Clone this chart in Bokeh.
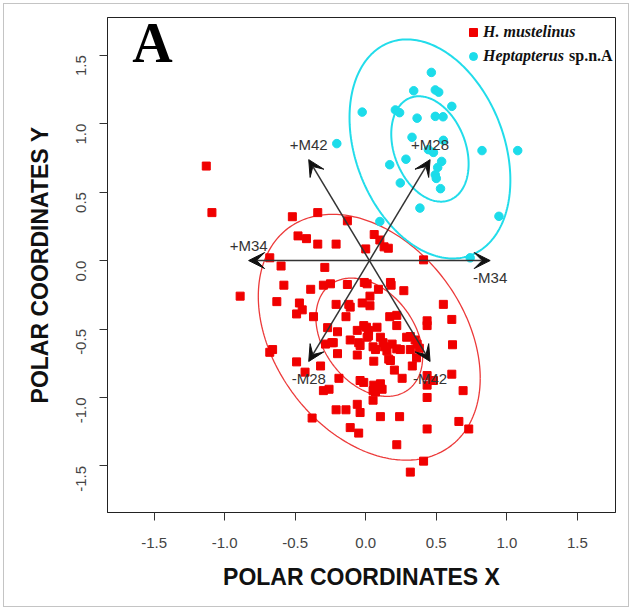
import math
import numpy as np
from bokeh.plotting import figure
from bokeh.models import (Range1d, ColumnDataSource, Arrow, VeeHead, Label, Legend, LegendItem,
                          FixedTicker, PrintfTickFormatter)
from bokeh.core.properties import value
from bokeh.embed import file_html
from bokeh.resources import INLINE

# ---------------- data ----------------
red_x = [-1.13, -1.09, -0.52, -0.34, -0.13, -0.48, -0.42, -0.34, -0.21, 0.06,
         0.10, 0.13, 0.16, 0.00, 0.41, -0.68, -0.60, -0.29, -0.58, -0.39,
         -0.30, -0.25, -0.89, -0.63, -0.47, -0.45, -0.49, -0.37, -0.13, -0.01,
         0.01, 0.175, 0.18, 0.27, 0.09, 0.03, -0.21, -0.12, -0.11, -0.025,
         0.03, 0.55, -0.14, 0.17, 0.22, 0.22, 0.435, 0.435, 0.61, -0.27,
         -0.20, -0.06, -0.014, 0.005, 0.02, 0.08, -0.24, -0.11, -0.05, -0.04,
         0.01, 0.02, 0.104, 0.123, 0.187, 0.052, 0.069, 0.132, 0.15, 0.22,
         0.245, 0.29, 0.316, 0.35, 0.364, 0.316, 0.38, 0.615, -0.20, -0.06,
         0.057, 0.163, 0.175, 0.36, 0.33, 0.203, 0.258, -0.19, -0.04, -0.014,
         0.057, 0.104, 0.116, 0.052, 0.069, 0.435, 0.435, 0.48, 0.61, 0.435,
         0.69, 0.052, -0.06, -0.04, -0.21, -0.14, 0.104, 0.24, -0.11, -0.05,
         0.435, 0.66, 0.73, 0.22, 0.41, 0.316, -0.68, -0.66, -0.49, -0.32,
         -0.285, -0.23, -0.43, -0.30, -0.26, -0.38]
red_y = [0.69, 0.35, 0.32, 0.35, 0.29, 0.18, 0.16, 0.12, 0.12, 0.19,
         0.15, 0.10, 0.09, 0.085, 0.005, 0.02, -0.04, -0.05, -0.18, -0.21,
         -0.18, -0.17, -0.26, -0.30, -0.31, -0.36, -0.39, -0.41, -0.175, -0.16,
         -0.17, -0.16, -0.18, -0.22, -0.21, -0.26, -0.32, -0.32, -0.34, -0.31,
         -0.33, -0.32, -0.41, -0.41, -0.40, -0.475, -0.44, -0.475, -0.43, -0.49,
         -0.52, -0.51, -0.475, -0.487, -0.51, -0.487, -0.60, -0.58, -0.60, -0.62,
         -0.56, -0.55, -0.56, -0.60, -0.61, -0.63, -0.65, -0.63, -0.66, -0.645,
         -0.65, -0.56, -0.555, -0.58, -0.61, -0.65, -0.64, -0.615, -0.68, -0.69,
         -0.735, -0.72, -0.73, -0.71, -0.77, -0.80, -0.86, -0.86, -0.876, -0.89,
         -0.91, -0.90, -0.94, -0.95, -0.96, -0.84, -0.91, -0.876, -0.83, -1.00,
         -0.95, -1.02, -1.05, -1.11, -1.09, -1.09, -1.14, -1.14, -1.22, -1.26,
         -1.23, -1.175, -1.23, -1.345, -1.465, -1.545, -0.67, -0.65, -0.74, -0.77,
         -0.61, -0.60, -0.815, -0.95, -0.94, -1.15]

cyan_x = [0.465, 0.34, 0.493, 0.517, 0.61, -0.025, 0.21, 0.24, 0.364, 0.493,
          0.548, -0.205, 0.328, 0.55, 0.444, 0.48, 0.824, 1.077, 0.17, 0.285,
          0.538, 0.51, 0.493, 0.50, 0.245, 0.53, 0.384, 0.944, 0.10, 0.74]
cyan_y = [1.374, 1.24, 1.246, 1.23, 1.126, 1.084, 1.10, 1.08, 1.04, 1.053,
          1.05, 0.854, 0.90, 0.878, 0.81, 0.79, 0.803, 0.803, 0.70, 0.74,
          0.724, 0.68, 0.626, 0.60, 0.567, 0.525, 0.383, 0.323, 0.285, 0.02]

group_names = ["H. mustelinus", "Heptapterus"]
group_suffix = ["", "sp.n.A"]
group_colors = ["#f00000", "#1cdcea"]
ellipse_colors = ["#ec3a3a", "#22dcea"]

# ellipse centres and covariance (xx, yy, xy) for each group
ell_cx = [0.025, 0.455]
ell_cy = [-0.56, 0.815]
ell_cxx = [0.1032, 0.0542]
ell_cyy = [0.1345, 0.1068]
ell_cxy = [-0.0392, -0.0217]
ell_levels = [0.50, 0.95]

# variable loadings (arrows)
var_names = ["M34", "M42", "M28"]
load_x = [-0.856, -0.43, 0.43]
load_y = [0.0, 0.737, 0.737]
origin = (0.026, 0.0)

ticks = [-1.5, -1.0, -0.5, 0.0, 0.5, 1.0, 1.5]

# ---------------- figure ----------------
p = figure(width=632, height=610, output_backend="svg", toolbar_location=None,
           x_range=Range1d(-1.83, 1.77), y_range=Range1d(-1.84, 1.775),
           min_border_left=107, min_border_right=17, min_border_top=17, min_border_bottom=98,
           background_fill_color="white", border_fill_alpha=0)
# light frame around the whole picture (drawn by the page element behind the transparent border)
p.styles = {"background-color": "white",
            "box-shadow": "inset 0 0 0 3px white, inset 0 0 0 4px #c4c4c4"}
p.xgrid.visible = False
p.ygrid.visible = False
p.outline_line_color = "#222222"
p.outline_line_width = 1

for ax in (p.xaxis[0], p.yaxis[0]):
    ax.ticker = FixedTicker(ticks=ticks)
    ax.formatter = PrintfTickFormatter(format="%.1f")
    ax.major_tick_out = 8
    ax.major_tick_in = 0
    ax.minor_tick_line_color = None
    ax.axis_line_color = "#222222"
    ax.major_tick_line_color = "#333333"
    ax.major_label_text_font = "Liberation Sans"
    ax.major_label_text_font_size = "15px"
    ax.major_label_text_color = "#444444"
    ax.axis_label_text_font = "Liberation Sans"
    ax.axis_label_text_font_size = "23px"
    ax.axis_label_text_font_style = "bold"
    ax.axis_label_text_color = "#111111"

p.xaxis.axis_label = "POLAR COORDINATES X"
p.yaxis.axis_label = "POLAR COORDINATES Y"
p.xaxis.major_label_standoff = 17
p.xaxis.axis_label_standoff = 13
p.yaxis.major_label_standoff = 18
p.yaxis.axis_label_standoff = 16
p.yaxis.major_label_orientation = math.pi / 2

# ellipses
for g in range(2):
    cov = np.array([[ell_cxx[g], ell_cxy[g]], [ell_cxy[g], ell_cyy[g]]])
    L = np.linalg.cholesky(cov)
    t = np.linspace(0, 2 * math.pi, 240)
    circ = np.vstack([np.cos(t), np.sin(t)])
    for lev in ell_levels:
        r = math.sqrt(-2.0 * math.log(1.0 - lev))
        pts = r * (L @ circ)
        p.line(ell_cx[g] + pts[0], ell_cy[g] + pts[1], line_color=ellipse_colors[g],
               line_width=1.3 if g == 0 else 2.0)

# points
r_red = p.scatter(red_x, red_y, marker="square", size=8, color=group_colors[0])
r_cyan = p.scatter(cyan_x, cyan_y, marker="circle", size=8.5, color=group_colors[1])

# arrows
xs, ys, xe, ye, lab, yoff = [], [], [], [], [], []
for name, lx, ly in zip(var_names, load_x, load_y):
    for sgn, pre, off in ((1, "+", -15), (-1, "-", 17)):
        xs.append(origin[0]); ys.append(origin[1])
        xe.append(origin[0] + sgn * lx); ye.append(origin[1] + sgn * ly)
        lab.append(pre + name); yoff.append(off)
asrc = ColumnDataSource(dict(xs=xs, ys=ys, xe=xe, ye=ye, lab=lab, yoff=yoff))
p.add_layout(Arrow(source=asrc, x_start="xs", y_start="ys", x_end="xe", y_end="ye",
                   line_color="#333333", line_width=1.5,
                   end=VeeHead(size=16, fill_color="#111111", line_color="#111111")))
p.text(x="xe", y="ye", text="lab", y_offset="yoff", source=asrc,
       text_font=value("Liberation Sans"), text_font_size=value("15px"),
       text_color="#333333", text_align="center", text_baseline="middle")

# legend (italic genus names)
legend = Legend(items=[LegendItem(label=group_names[0], renderers=[r_red]),
                       LegendItem(label=group_names[1], renderers=[r_cyan])],
                location=(356, 446), label_text_font="Liberation Serif",
                label_text_font_style="bold italic", label_text_font_size="16px",
                label_text_color="#111111",
                glyph_width=20, glyph_height=20, label_standoff=0, spacing=4,
                padding=0, margin=0, border_line_color=None, background_fill_alpha=0)
p.add_layout(legend)
# upright suffix of the second name, as a glyph-less legend row
legend2 = Legend(items=[LegendItem(label=group_suffix[1], renderers=[r_cyan])],
                 location=(462, 446), label_text_font="Liberation Serif",
                 label_text_font_style="bold", label_text_font_size="16px",
                 label_text_color="#111111",
                 glyph_width=0, glyph_height=20, label_standoff=0, spacing=0,
                 padding=0, margin=0, border_line_color=None, background_fill_alpha=0)
p.add_layout(legend2)

# panel letter
p.add_layout(Label(x=-1.511, y=1.592, text="A", text_font="Liberation Serif",
                   text_font_style="bold", text_font_size="56px", text_color="#000000",
                   text_align="center", text_baseline="alphabetic"))

open("out.html", "w").write(file_html(p, INLINE))
